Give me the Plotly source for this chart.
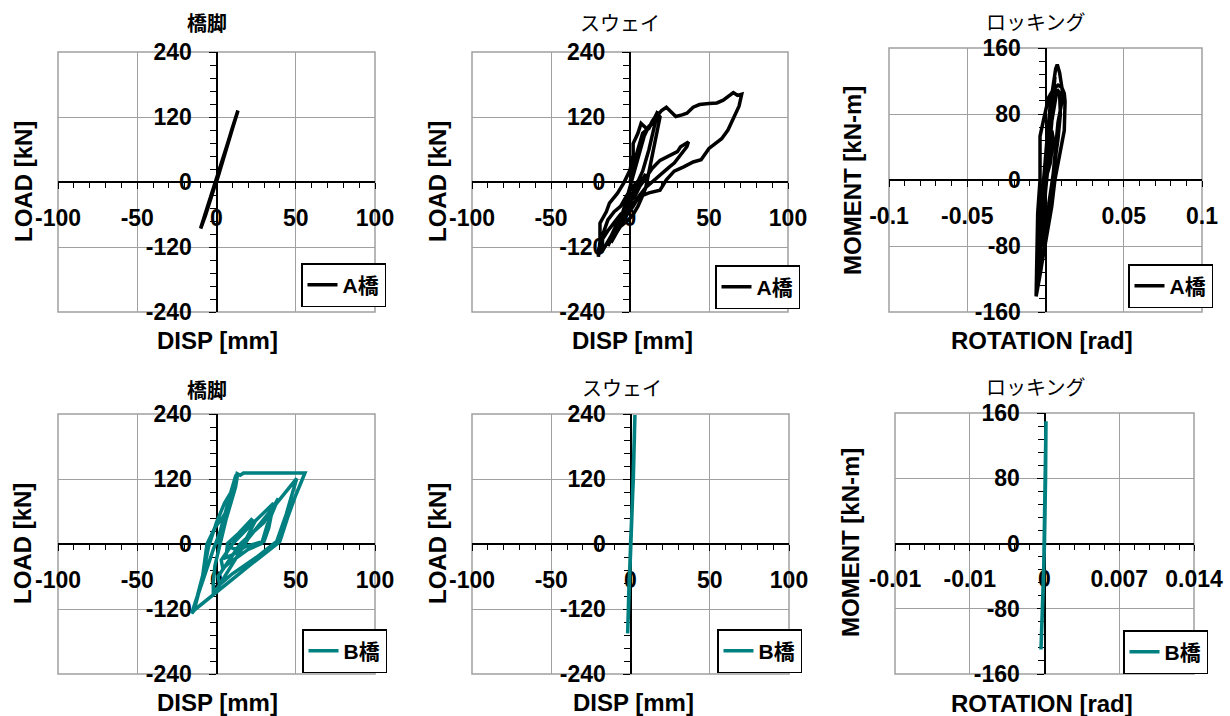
import plotly.graph_objects as go

W, H = 1230, 716

# ---------------- data ----------------
disp_ticks = [-100, -50, 0, 50, 100]
disp_tick_text = ["-100", "-50", "0", "50", "100"]
load_ticks = [-240, -120, 0, 120, 240]
load_tick_text = ["-240", "-120", "0", "120", "240"]
rotA_ticks = [-0.1, -0.05, 0, 0.05, 0.1]
rotA_tick_text = ["-0.1", "-0.05", "0", "0.05", "0.1"]
rotB_ticks = [-0.014, -0.007, 0, 0.007, 0.014]
rotB_tick_text = ["-0.01", "-0.01", "0", "0.007", "0.014"]
mom_ticks = [-160, -80, 0, 80, 160]
mom_tick_text = ["-160", "-80", "0", "80", "160"]

# A橋 橋脚
A_pier_disp = [0, 4, 8, 11, 13.5, 10, 5, 0, -4, -8, -10, -7, -2, 3, 7, 12, 13.5, 9, 2, -5, -10, -6, 0]
A_pier_load = [0, 40, 78, 106, 132, 100, 52, 4, -35, -70, -86, -62, -16, 30, 68, 116, 131, 90, 22, -44, -85, -52, 2]

# A橋 スウェイ
A_sway_disp = [0, 3, 6, 8, 12, 14, 17, 18, 16, 12, 8, 5, 2, -3, -8, -12, -14,
               -10, -6, -3, 0, 3, 6, 9, 12, 15, 18, 20, 23,
               26, 29, 33, 36, 40, 44, 50, 55, 59, 63, 65.4, 68, 70.7,
               69, 67, 64, 62, 58, 54, 50, 45, 40, 34, 28, 23, 21, 19, 12, 6, 2,
               -2, -6, -10, -14, -18, -20, -20, -19, -19, -15, -13, -8, -4, 0, 2, 2, 5, 7, 10, 12, 15, 17,
               19, 15, 12, 10, 8, 5, 2, -1, -6, -10, -12,
               -8, -4, 0, 3, 6, 10, 14, 19, 25, 30, 32, 35, 37,
               36, 32, 28, 25, 20, 18, 14, 10, 6, 2, -3, -8, -12, -9, -5, -1, 4, 10,
               5, 0, -4, -8, -12, -16, -18, -17, -14, -10, -6, -3, 0, 3, 6]
A_sway_load = [0, 40, 70, 90, 100, 112, 125, 130, 110, 60, 20, 0, -20, -50, -80, -105, -118,
               -95, -70, -40, -10, 20, 55, 85, 103, 110, 125, 132, 138,
               130, 121, 124, 127, 138, 143, 145, 146, 151, 160, 165, 160, 162,
               140, 127, 110, 96, 80, 71, 62, 41, 37, 28, 20, 4, -5, -15, -20, -27, -39,
               -50, -60, -75, -90, -108, -125, -138, -110, -76, -55, -39, -21, -2, 22, 50, 71, 90, 108, 100, 99, 115, 127,
               120, 60, 20, -10, -25, -45, -60, -70, -82, -101, -110,
               -85, -60, -35, -27, -9, 8, 25, 40, 48, 56, 65, 70, 74,
               65, 50, 35, 28, 15, 10, 0, -10, -25, -45, -65, -90, -112, -95, -70, -45, -15, 15,
               -10, -30, -55, -75, -100, -120, -130, -95, -70, -55, -45, -30, -15, -5, 5]

# A橋 ロッキング
A_rock_rot = [0, 0.003, 0.0045, 0.002, -0.001, -0.003, -0.004, -0.002, 0, 0.002, 0.004, 0.0055, 0.006,
              0.004, 0.001, -0.002, -0.0045, -0.0055, -0.004, -0.003, -0.001, 0.001, 0.003, 0.005,
              0.0065, 0.0075, 0.009, 0.0105, 0.011, 0.008, 0.006, 0.004, 0.003, 0, -0.003, -0.006,
              -0.0058, -0.0055, -0.005, -0.0035, -0.0035, -0.001, 0.002, 0.005, 0.008, 0.0105, 0.012,
              0.0125, 0.012, 0.0105, 0.008, 0.006, 0.004, 0.002, -0.001, -0.004, -0.005, -0.004,
              -0.002, 0, 0.003, 0.006, 0.0075, 0.009, 0.0095, 0.008, 0.006, 0.004, 0.002, -0.001,
              -0.003, -0.002, 0, 0.002, 0.004, 0.005, 0.003, 0]
A_rock_mom = [0, 70, 100, 40, -20, -70, -100, -50, 0, 50, 90, 115, 125,
              70, 10, -50, -110, -130, -90, -40, 10, 50, 90, 120,
              135, 140, 130, 112, 100, 70, 30, -10, -32, -70, -110, -141,
              -110, -70, -40, 0, 53, 75, 100, 110, 115, 112, 105,
              95, 60, 45, 20, 0, -32, -55, -90, -120, -100, -60,
              -20, 20, 60, 95, 110, 105, 80, 50, 20, -5, -30, -60,
              -80, -50, -10, 30, 60, 50, 20, 0]

# B橋 橋脚
B_pier_disp = [0, 3, 6, 8.5, 11, 12.5, 10, 6, 2, -2, -5, -9, -13, -15.6,
               -13, -9, -6, -1, 4, 8.5, 11, 13, 15, 17, 35, 55.8,
               50, 45, 40, 39, 25, 10, -2, -8, -14, -15.6,
               -12, -8, -5, 0, 5, 9, 12, 13.5, 12, 6, 2, -1, -2, -2,
               20, 50.6, 48, 44, 38, 25, 10, 2,
               1, 15, 30, 39, 37, 32, 28.5, 20, 8, 4,
               3, 10, 20, 27, 36, 35, 33, 30, 18, 10, 6,
               7, 14, 22, 24, 18, 12, 8]
B_pier_load = [0, 30, 55, 75, 110, 128, 105, 60, 20, -10, -35, -70, -105, -128,
               -110, -65, 0, 30, 50, 70, 105, 130, 127, 131, 131, 131,
               90, 50, 5, 2, -30, -65, -94, -108, -122, -128,
               -95, -50, -5, 40, 75, 95, 125, 131, 105, 45, 0, -40, -70, -94,
               10, 121, 95, 55, 5, -25, -55, -75,
               -60, 0, 40, 84, 70, 35, 1, -10, -35, -45,
               -30, 0, 30, 50, 75, 60, 30, 5, -5, -20, -25,
               1, 20, 45, 40, 5, -10, -5]

# B橋 スウェイ
B_sway_disp = [0, 0.5, 1.0, 1.8, 2.3, 2.8, 2.2, 1.2, 0.3, -0.3, -0.4, -1.0, -1.4, -1.8, -1.2, -0.5, 0, 0.8, 1.6, 2.5]
B_sway_load = [0, 30, 60, 120, 180, 238, 170, 80, 20, -10, -40, -80, -110, -165, -100, -40, 0, 50, 110, 200]

# B橋 ロッキング
B_rock_rot = [0, 0.00005, 0.0001, 0.00014, 0.0001, 0.00003, -0.00005, -0.0001, -0.0002, -0.00033, -0.0002, -0.0001, 0]
B_rock_mom = [0, 30, 80, 150, 100, 40, -10, -50, -90, -130, -80, -30, 0]

# ---------------- styling ----------------
FONT = "Liberation Sans, Arial, Noto Sans CJK JP, sans-serif"
JP = "Noto Sans CJK JP, sans-serif"
BLACK = "#000000"
TEAL = "#008080"
GRID = "#a0a0a0"

panels = [
    dict(x=A_pier_disp, y=A_pier_load, name="A橋", color=BLACK,
         px=(58, 375), py=(52, 312), xr=100, yr=240,
         xt=disp_ticks, xtt=disp_tick_text, yt=load_ticks, ytt=load_tick_text,
         xminor=10, yminor=24, title="橋脚", tbold=True, txy=(207, 22),
         xlab="DISP [mm]", ylab="LOAD [kN]", xlxy=(217, 340), ylxy=(23, 182), leg=(386, 307)),
    dict(x=A_sway_disp, y=A_sway_load, name="A橋", color=BLACK,
         px=(472, 788), py=(52, 312), xr=100, yr=240,
         xt=disp_ticks, xtt=disp_tick_text, yt=load_ticks, ytt=load_tick_text,
         xminor=10, yminor=24, title="スウェイ", tbold=False, txy=(620, 22),
         xlab="DISP [mm]", ylab="LOAD [kN]", xlxy=(632, 340), ylxy=(437, 182), leg=(800, 309)),
    dict(x=A_rock_rot, y=A_rock_mom, name="A橋", color=BLACK,
         px=(889, 1202), py=(48, 312), xr=0.1, yr=160,
         xt=rotA_ticks, xtt=rotA_tick_text, yt=mom_ticks, ytt=mom_tick_text,
         xminor=0.01, yminor=16, title="ロッキング", tbold=False, txy=(1035, 21),
         xlab="ROTATION [rad]", ylab="MOMENT [kN-m]", xlxy=(1042, 340), ylxy=(852, 180), leg=(1213, 308)),
    dict(x=B_pier_disp, y=B_pier_load, name="B橋", color=TEAL,
         px=(58, 375), py=(414, 674), xr=100, yr=240,
         xt=disp_ticks, xtt=disp_tick_text, yt=load_ticks, ytt=load_tick_text,
         xminor=10, yminor=24, title="橋脚", tbold=True, txy=(207, 389),
         xlab="DISP [mm]", ylab="LOAD [kN]", xlxy=(217, 702), ylxy=(22, 544), leg=(387, 673)),
    dict(x=B_sway_disp, y=B_sway_load, name="B橋", color=TEAL,
         px=(472, 789), py=(414, 674), xr=100, yr=240,
         xt=disp_ticks, xtt=disp_tick_text, yt=load_ticks, ytt=load_tick_text,
         xminor=10, yminor=24, title="スウェイ", tbold=False, txy=(622, 387),
         xlab="DISP [mm]", ylab="LOAD [kN]", xlxy=(633, 702), ylxy=(437, 544), leg=(802, 673)),
    dict(x=B_rock_rot, y=B_rock_mom, name="B橋", color=TEAL,
         px=(895, 1194), py=(413, 674), xr=0.014, yr=160,
         xt=rotB_ticks, xtt=rotB_tick_text, yt=mom_ticks, ytt=mom_tick_text,
         xminor=0.0014, yminor=16, title="ロッキング", tbold=False, txy=(1035, 386),
         xlab="ROTATION [rad]", ylab="MOMENT [kN-m]", xlxy=(1042, 703), ylxy=(850, 543), leg=(1208, 674)),
]

fig = go.Figure()
layout = dict(width=W, height=H, margin=dict(l=0, r=0, t=0, b=0, pad=0, autoexpand=False),
              paper_bgcolor="white", plot_bgcolor="white", showlegend=True)
annotations = []
shapes = []
tickfont = dict(family=FONT, size=23, color="black", weight="bold")

for i, p in enumerate(panels, start=1):
    x0, x1 = p["px"][0] / W, p["px"][1] / W
    y0, y1 = 1 - p["py"][1] / H, 1 - p["py"][0] / H
    legname = "legend" if i == 1 else f"legend{i}"
    sfx = "" if i == 1 else str(i)
    fig.add_trace(go.Scatter(
        x=p["x"], y=p["y"], mode="lines", name=p["name"],
        line=dict(color=p["color"], width=3.5),
        xaxis=f"x{sfx}", yaxis=f"y{sfx}", legend=legname, hoverinfo="skip"))

    layout[f"xaxis{sfx}"] = dict(domain=[x0, x1], anchor="free", position=(y0 + y1) / 2, side="bottom",
                                 range=[-p["xr"], p["xr"]], tickmode="array", tickvals=p["xt"], ticktext=p["xtt"],
                                 ticks="outside", ticklen=6, tickwidth=1, tickcolor="black",
                                 showline=True, linecolor="black", linewidth=2,
                                 showgrid=True, gridcolor=GRID, gridwidth=1, zeroline=False,
                                 tickfont=tickfont, ticklabelstandoff=9, layer="below traces",
                                 automargin=False,
                                 minor=dict(tickmode="linear", tick0=0, dtick=p["xminor"], ticks="outside",
                                            ticklen=5, tickwidth=1, tickcolor="black", showgrid=False))
    layout[f"yaxis{sfx}"] = dict(domain=[y0, y1], anchor="free", position=(x0 + x1) / 2, side="left",
                                 range=[-p["yr"], p["yr"]], tickmode="array", tickvals=p["yt"], ticktext=p["ytt"],
                                 ticks="outside", ticklen=7, tickwidth=1, tickcolor="black",
                                 showline=True, linecolor="black", linewidth=2,
                                 showgrid=True, gridcolor=GRID, gridwidth=1, zeroline=False,
                                 tickfont=tickfont, ticklabelstandoff=12, layer="below traces",
                                 automargin=False,
                                 minor=dict(tickmode="linear", tick0=0, dtick=p["yminor"], ticks="outside",
                                            ticklen=6, tickwidth=1, tickcolor="black", showgrid=False))
    shapes.append(dict(type="rect", xref=f"x{sfx} domain", yref=f"y{sfx} domain",
                       x0=0, x1=1, y0=0, y1=1, line=dict(color=GRID, width=1.5), layer="below"))
    layout[legname] = dict(x=p["leg"][0] / W, y=1 - p["leg"][1] / H, xanchor="right", yanchor="bottom",
                           bgcolor="white", bordercolor="black", borderwidth=1.5,
                           font=dict(family=FONT, size=21, color="black", weight="bold"))

    annotations.append(dict(text=p["title"], x=p["txy"][0] / W, y=1 - p["txy"][1] / H,
                            xref="paper", yref="paper", showarrow=False, xanchor="center", yanchor="middle",
                            font=dict(family=JP, size=20, color="black",
                                      weight="bold" if p["tbold"] else "normal")))
    annotations.append(dict(text=p["xlab"], x=p["xlxy"][0] / W, y=1 - p["xlxy"][1] / H,
                            xref="paper", yref="paper", showarrow=False, xanchor="center", yanchor="middle",
                            font=dict(family=FONT, size=24, color="black", weight="bold")))
    annotations.append(dict(text=p["ylab"], x=p["ylxy"][0] / W, y=1 - p["ylxy"][1] / H,
                            xref="paper", yref="paper", showarrow=False, xanchor="center", yanchor="middle",
                            textangle=-90,
                            font=dict(family=FONT, size=24, color="black", weight="bold")))

layout["annotations"] = annotations
layout["shapes"] = shapes
fig.update_layout(**layout)
fig.write_html("out.html")
